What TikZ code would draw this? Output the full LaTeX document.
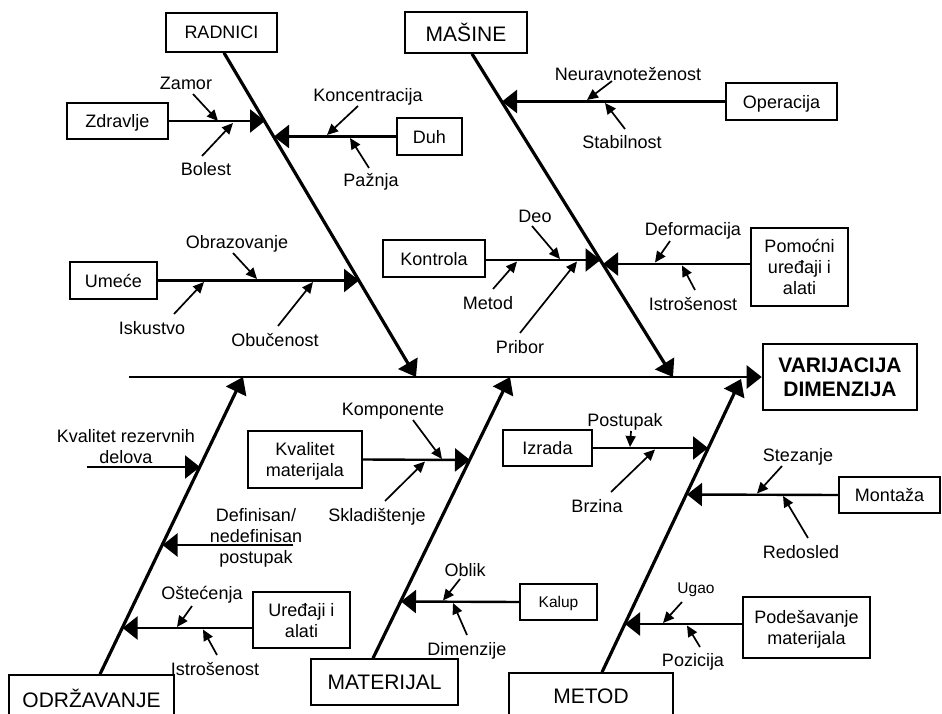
\documentclass[tikz,border=0pt]{standalone}
\usepackage{fontspec}
\setmainfont{Liberation Sans}
\usetikzlibrary{arrows.meta}
\newcommand\fnLab{\fontsize{18}{21}\selectfont}
\newcommand\fnBig{\fontsize{21}{24}\selectfont}
\newcommand\fnSmall{\fontsize{15.5}{18}\selectfont}
\newcommand\fnBold{\fontsize{21}{23.5}\selectfont\bfseries}
\begin{document}
\begin{tikzpicture}[x=1pt,y=-1pt,
  box/.style={draw,line width=1.6pt,inner sep=0pt,text depth=0pt,align=center,font=\fnLab},
  bigbox/.style={box,font=\fnBig},
  effect/.style={box,line width=2.6pt,font=\fnBold},
  lab/.style={anchor=base,inner sep=0pt,align=center,font=\fnLab},
  bone/.style={line width=3.2pt,-{Triangle[length=16pt,width=22pt]}},
  spine/.style={line width=2.6pt,-{Triangle[length=15pt,width=23pt]}},
  rib/.style={line width=2.4pt,-{Triangle[length=15pt,width=23pt]}},
  twig/.style={line width=1.7pt,-{Triangle[length=11pt,width=10pt]}}]
\useasboundingbox (0,0) rectangle (942,714);
\clip (0,0) rectangle (942,714);

% ---- category boxes and the effect ----
\node[box,minimum width=111pt,minimum height=39pt] (rad) at (221.5,32.5) {RADNICI};
\node[bigbox,minimum width=122pt,minimum height=41pt] (mas) at (466,32.5) {MAŠINE};
\node[bigbox,minimum width=165pt,minimum height=46pt] (odr) at (91.5,698) {ODRŽAVANJE};
\node[bigbox,minimum width=147pt,minimum height=46pt] (mat) at (384.5,682) {MATERIJAL};
\node[bigbox,minimum width=164pt,minimum height=46pt] (met) at (591,696) {METOD};
\node[effect,minimum width=154pt,minimum height=66pt] (var) at (840,377) {VARIJACIJA\\DIMENZIJA};

% ---- cause boxes ----
\node[box,minimum width=101pt,minimum height=36pt] (zdr) at (117.5,121) {Zdravlje};
\node[box,minimum width=65pt,minimum height=37pt] (duh) at (429.5,136.5) {Duh};
\node[box,minimum width=87pt,minimum height=37pt] (ume) at (113.5,280.5) {Umeće};
\node[box,minimum width=111pt,minimum height=37pt] (ope) at (781.5,101.5) {Operacija};
\node[box,minimum width=97pt,minimum height=78pt] (pom) at (799.5,267) {Pomoćni\\uređaji i\\alati};
\node[box,minimum width=102pt,minimum height=37pt] (kon) at (434,258.5) {Kontrola};
\node[box,minimum width=114pt,minimum height=57pt] (kvm) at (305,459.5) {Kvalitet\\materijala};
\node[box,minimum width=89pt,minimum height=36pt] (izr) at (547.5,448) {Izrada};
\node[box,minimum width=101pt,minimum height=36pt] (mon) at (889.5,495) {Montaža};
\node[box,minimum width=97pt,minimum height=56pt] (ure) at (301.5,620) {Uređaji i\\alati};
\node[box,font=\fnSmall,minimum width=77pt,minimum height=36pt] (kal) at (558.5,602) {Kalup};
\node[box,minimum width=127pt,minimum height=61pt] (pod) at (806.5,627.5) {Podešavanje\\materijala};

% ---- spine and main bones ----
\coordinate (tail) at (129,377);
\coordinate (sR) at (416,377);
\coordinate (sM) at (673,377);
\coordinate (sO) at (243,377);
\coordinate (sT) at (510,377);
\coordinate (sE) at (741,379);
\draw[spine] (tail) -- (var.west);
\draw[bone] ([xshift=2.5pt]rad.south) -- (sR);
\draw[bone] ([xshift=6pt]mas.south) -- (sM);
\draw[bone] ([xshift=8.5pt]odr.north) -- (sO);
\draw[bone] ([xshift=-11.5pt]mat.north) -- (sT);
\draw[bone] ([xshift=11pt]met.north) -- (sE);

% ---- ribs ----
\coordinate (rZdr) at (265,121);
\coordinate (rDuh) at (274,136.5);
\coordinate (rUme) at (359,280.5);
\coordinate (rOpe) at (502,101.5);
\coordinate (rPom) at (603,264);
\coordinate (rKon) at (600.5,260);
\coordinate (kvrA) at (87,467);
\coordinate (rKvr) at (200,467);
\coordinate (defA) at (293,545);
\coordinate (rDef) at (162.5,545);
\coordinate (rUre) at (122.6,628);
\coordinate (rKvm) at (470,460);
\coordinate (rKal) at (401,601.5);
\coordinate (rIzr) at (708,448);
\coordinate (rMon) at (687,494.5);
\coordinate (rPod) at (625,624);
\draw[rib] (zdr.east) -- (rZdr);
\draw[rib] (duh.west) -- (rDuh);
\draw[rib] (ume.east) -- (rUme);
\draw[rib] (ope.west) -- (rOpe);
\draw[rib] ([yshift=3pt]pom.west) -- (rPom);
\draw[rib] ([yshift=-1.5pt]kon.east) -- (rKon);
\draw[rib] (kvrA) -- (rKvr);
\draw[rib] (defA) -- (rDef);
\draw[rib] ([yshift=-8pt]ure.west) -- (rUre);
\draw[rib] (kvm.east) -- (rKvm);
\draw[rib] (kal.west) -- (rKal);
\draw[rib] (izr.east) -- (rIzr);
\draw[rib] (mon.west) -- (rMon);
\draw[rib] ([yshift=3.5pt]pod.west) -- (rPod);

% ---- sub-cause labels (base = baseline of the last line) ----
\node[lab] (zamor) at (186,89.5) {Zamor};
\node[lab] (bolest) at (206,176) {Bolest};
\node[lab] (konc) at (368,101.5) {Koncentracija};
\node[lab] (paznja) at (371,187) {Pažnja};
\node[lab] (obraz) at (237,248) {Obrazovanje};
\node[lab] (iskus) at (152,334) {Iskustvo};
\node[lab] (obuc) at (275,346) {Obučenost};
\node[lab] (neur) at (628,81) {Neuravnoteženost};
\node[lab] (stab) at (622,149) {Stabilnost};
\node[lab] (defo) at (693,235) {Deformacija};
\node[lab] (istA) at (693,310) {Istrošenost};
\node[lab] (deo) at (535,222.5) {Deo};
\node[lab] (metl) at (488,309) {Metod};
\node[lab] (prib) at (520,353) {Pribor};
\node[lab] (kvr) at (126,463.5) {Kvalitet rezervnih\\delova};
\node[lab] (defn) at (256,563.5) {Definisan/\\nedefinisan\\postupak};
\node[lab] (oste) at (202,599) {Oštećenja};
\node[lab] (istB) at (215,675) {Istrošenost};
\node[lab] (komp) at (393,415) {Komponente};
\node[lab] (sklad) at (377,521) {Skladištenje};
\node[lab] (oblik) at (465,576) {Oblik};
\node[lab] (dimz) at (467,655) {Dimenzije};
\node[lab] (post) at (625,426) {Postupak};
\node[lab] (brz) at (597,512) {Brzina};
\node[lab] (stez) at (798,461) {Stezanje};
\node[lab] (redo) at (801,558) {Redosled};
\node[lab,font=\fnSmall] (ugao) at (696,593) {Ugao};
\node[lab] (pozi) at (693,666.5) {Pozicija};

% ---- sub-cause arrows ----
\coordinate (zamorA) at (193,94);   \coordinate (zamorB) at (218,121);
\coordinate (bolA) at (202,156);    \coordinate (bolB) at (233,123);
\coordinate (koncA) at (358,106);   \coordinate (koncB) at (327,135);
\coordinate (pazA) at (369,168);    \coordinate (pazB) at (350,138);
\coordinate (obrA) at (233,253);    \coordinate (obrB) at (257,279);
\coordinate (iskA) at (174,314);    \coordinate (iskB) at (204,282);
\coordinate (obuA) at (278,326);    \coordinate (obuB) at (313,282);
\coordinate (neuA) at (612,81);     \coordinate (neuB) at (587,100);
\coordinate (stabA) at (625,129);   \coordinate (stabB) at (605,103);
\coordinate (defoA) at (670,241);   \coordinate (defoB) at (655,262.5);
\coordinate (istAA) at (695,290);   \coordinate (istAB) at (682,265.5);
\coordinate (deoA) at (532,226);    \coordinate (deoB) at (560,259);
\coordinate (metA) at (493,289);    \coordinate (metB) at (517,261.5);
\coordinate (pribA) at (520,333);   \coordinate (pribB) at (577,261.5);
\coordinate (osteA) at (192,606);   \coordinate (osteB) at (177,627);
\coordinate (istBA) at (217,655);   \coordinate (istBB) at (203,629.5);
\coordinate (kompA) at (413,420);   \coordinate (kompB) at (442,459);
\coordinate (skA) at (385,501);     \coordinate (skB) at (425,461.5);
\coordinate (oblA) at (460,579);    \coordinate (oblB) at (443,600.5);
\coordinate (dimA) at (467,635);    \coordinate (dimB) at (453,603);
\coordinate (postA) at (631,431);   \coordinate (postB) at (630,447);
\coordinate (brzA) at (611,492);    \coordinate (brzB) at (655,449.5);
\coordinate (stezA) at (782,466);   \coordinate (stezB) at (757,493.5);
\coordinate (redA) at (808,538);    \coordinate (redB) at (783,496);
\coordinate (ugA) at (682,602);     \coordinate (ugB) at (663,623);
\coordinate (pozA) at (700,647);    \coordinate (pozB) at (687,625.5);
\foreach \a/\b in {zamorA/zamorB,bolA/bolB,koncA/koncB,pazA/pazB,obrA/obrB,
  iskA/iskB,obuA/obuB,neuA/neuB,stabA/stabB,defoA/defoB,istAA/istAB,deoA/deoB,
  metA/metB,pribA/pribB,osteA/osteB,istBA/istBB,kompA/kompB,skA/skB,oblA/oblB,
  dimA/dimB,postA/postB,brzA/brzB,stezA/stezB,redA/redB,ugA/ugB,pozA/pozB}
  \draw[twig] (\a) -- (\b);
\end{tikzpicture}
\end{document}
